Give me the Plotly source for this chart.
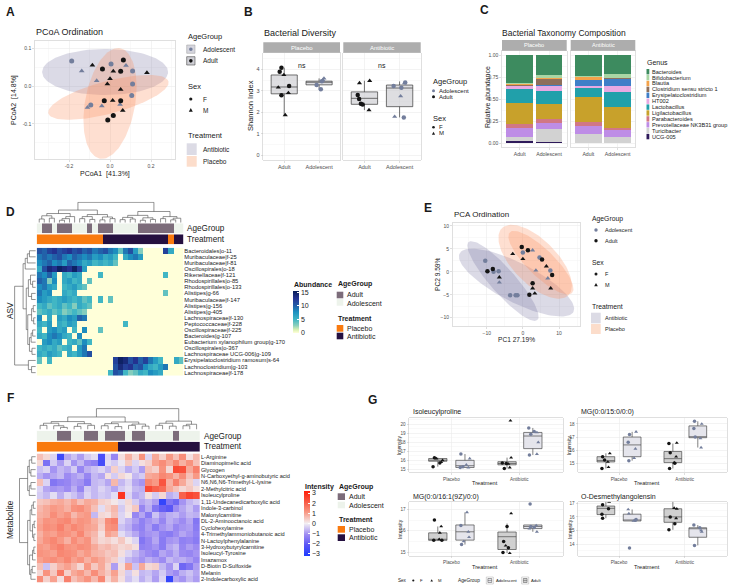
import numpy as np
import plotly.graph_objects as go

W, H = 736, 587
FONT = "Liberation Sans, Arial, Helvetica, sans-serif"
DARK = "#1A1A1A"
TICKC = "#4D4D4D"
AGE_COL = {"N": "#737E9C", "A": "#141414"}      # N = Adolescent, A = Adult
SYM = {"F": "circle", "M": "triangle-up"}
TRT_FILL = {"Antibiotic": "rgba(105,100,150,0.24)", "Placebo": "rgba(250,140,90,0.28)"}
TRT_KEY = {"Antibiotic": "#DCDBE5", "Placebo": "#FCDDCB"}
ANN_AGE = {"A": "#7C6C7A", "N": "#EDF3EB"}
ANN_TRT = {"P": "#F97A0F", "A": "#251040"}

# ---------------- A: PCoA ----------------
pcoa_x = [-0.187, -0.138, -0.065, 0.005, 0.078, 0.110, 0.110, 0.106, -0.094, -0.110, -0.040, 0.049,
          -0.086, -0.037, 0.016, 0.065, 0.052, 0.000, -0.013, 0.052, 0.180, -0.028, 0.013, 0.052, 0.062, 0.016, -0.011]
pcoa_y = [0.066, 0.040, 0.014, 0.058, 0.054, 0.040, 0.005, -0.025, -0.050, -0.057, -0.053, -0.049,
          0.055, 0.045, 0.039, 0.069, 0.039, 0.019, 0.005, -0.009, 0.035, -0.039, -0.038, -0.039, -0.065, -0.078, -0.090]
pcoa_age = "NNNNNNNNNNNN" + "AAAAAAAAAAAAAAA"
pcoa_sex = "FMMFMFFFFMMM" + "MFMFFMMMMFMFMFF"
pcoa_ell_trt = ["Antibiotic", "Placebo", "Placebo"]
pcoa_ell_cx = [-0.024, -0.008, 0.000]
pcoa_ell_cy = [0.037, -0.030, -0.046]
pcoa_ell_ux = [0.307, 0.293, 0.049]
pcoa_ell_uy = [0.000, 0.042, 0.146]
pcoa_ell_vx = [0.000, 0.018, 0.120]
pcoa_ell_vy = [0.061, -0.042, -0.012]

# ---------------- B: Shannon ----------------
shannon_groups = ["Placebo|Adult", "Placebo|Adolescent", "Antibiotic|Adult", "Antibiotic|Adolescent"]
shannon_y = [[4.08, 3.89, 3.74, 3.16, 3.22, 2.79, 2.90, 1.87],
             [3.27, 3.07, 3.45, 3.50, 3.58],
             [3.36, 3.47, 2.80, 2.62, 2.40, 2.36, 2.10],
             [3.22, 3.14, 2.75, 3.39, 3.36, 1.79, 1.76]]
shannon_sex = ["FFMMFFMM", "FFFMM", "MMFFFFM", "FFMFMMF"]
shannon_jit = [[-0.08, -0.13, -0.01, -0.17, 0.14, -0.08, 0.12, 0.03],
               [-0.07, 0.05, 0.08, 0.11, 0.14],
               [-0.14, 0.15, -0.19, -0.15, -0.10, -0.05, 0.13],
               [-0.17, 0.05, 0.03, 0.16, 0.14, -0.14, 0.12]]
# q1, median, q3, lower whisker, upper whisker
shannon_box = [[2.86, 3.18, 3.74, 1.87, 4.08], [3.28, 3.40, 3.45, 3.07, 3.58],
               [2.37, 2.65, 2.95, 2.10, 3.47], [2.26, 3.13, 3.27, 1.76, 3.44]]

# ---------------- C: taxonomy ----------------
genus = ["Bacteroides", "Bifidobacterium", "Blautia", "Clostridium sensu stricto 1", "Erysipelatoclostridium",
         "HT002", "Lactobacillus", "Ligilactobacillus", "Parabacteroides", "Prevotellaceae NK3B31 group",
         "Turicibacter", "UCG-005"]
genus_col = ["#3D8B5F", "#A9D6A4", "#F4A24A", "#8E6F5C", "#3F7EC8", "#E8A9E3", "#21A0AA", "#C8A12B",
             "#D17785", "#BE8DE6", "#D2D2D2", "#2E1A5A"]
# columns: Placebo-Adult, Placebo-Adolescent, Antibiotic-Adult, Antibiotic-Adolescent
abund = [[0.315, 0.230, 0.242, 0.215], [0.010, 0.034, 0.005, 0.040], [0.010, 0.008, 0.033, 0.005],
         [0.015, 0.073, 0.005, 0.015], [0.005, 0.005, 0.067, 0.075], [0.030, 0.054, 0.016, 0.065],
         [0.160, 0.146, 0.106, 0.170], [0.240, 0.180, 0.283, 0.238], [0.045, 0.044, 0.050, 0.027],
         [0.095, 0.068, 0.090, 0.075], [0.045, 0.146, 0.100, 0.072], [0.030, 0.012, 0.003, 0.003]]

# ---------------- D: ASV heatmap ----------------
asv_rows = ["Bacteroidales|o-11", "Muribaculaceae|f-25", "Muribaculaceae|f-81", "Oscillospirales|o-18",
            "Rikenellaceae|f-121", "Rhodospirillales|o-85", "Rhodospirillales|o-133", "Alistipes|g-66",
            "Muribaculaceae|f-147", "Alistipes|g-156", "Alistipes|g-405", "Lachnospiraceae|f-130",
            "Peptococcaceae|f-228", "Oscillospiraceae|f-225", "Bacteroides|g-107",
            "Eubacterium xylanophilum group|g-170", "Oscillospirales|o-367", "Lachnospiraceae UCG-006|g-109",
            "Erysipelatoclostridium ramosum|s-64", "Lachnoclostridium|g-103", "Lachnospiraceae|f-178"]
# abundance per sample (hex digit 0-15), 29 samples
asv_hex = [
    "BACDBCDBCA" "B9AB9849B7" "30000C600",
    "9A9AB98A98" "9786750689" "700000000",
    "89A897A986" "7565640000" "000000000",
    "6BEDFEDFC7" "0000000000" "000000000",
    "98A7065760" "0050000000" "000005000",
    "A938067560" "4000000000" "000000000",
    "8976056754" "0000000000" "000000000",
    "9780065600" "0000000000" "000004000",
    "8765676564" "5050400000" "000000000",
    "5645645365" "4000000000" "000000000",
    "4564534543" "0000000000" "000000000",
    "80607687A9" "0000000000" "000000000",
    "6570657600" "0000000500" "000000000",
    "5078670508" "0040000000" "000000000",
    "6589865080" "0000000000" "000000000",
    "0786705648" "5000000000" "000000000",
    "5656456079" "0000000000" "000000000",
    "6576506579" "B000000000" "000000000",
    "4050000000" "00000CFEBD" "AC9750064",
    "0000000000" "00000BECDA" "B86579000",
    "0000000000" "00005BA534" "658760000",
]
asv_age = "NAANAAANNNANAAANNNNNAAAAAAANN"
asv_trt = "PPPPPPPPPPPPPAAAAAAAAAAAAAPAA"
asv_col_tree = (((((0, 1, .18), (2, 3, .22), .34), (((4, 5, .12), 6, .2), 7, .3), .45),
                 (((8, 9, .2), (10, 11, .16), .3), ((12, 13, .14), (14, 15, .2), .28), .4), .62),
                ((((16, 17, .15), (18, 19, .18), .26), ((20, 21, .12), (22, 23, .16), .24), .36),
                 ((24, 25, .2), ((26, 27, .14), 28, .22), .3), .55), 1.0)
asv_row_tree = (((((0, 1, .3), 2, .4), 3, .5),
                 (((4, (5, 6, .15), .25), (7, 8, .2), .35),
                  (((9, 10, .12), (11, 12, .1), .2), (((13, 14, .15), 15, .22), (16, 17, .18), .3), .38), .45), .6),
                (18, (19, 20, .2), .35), 1.0)

# ---------------- E: PCA ----------------
pca_x = [-10.4, -8.1, -6.7, -6.5, -3.5, -2.0, -1.5, 0.0, 2.7, 3.6, 4.6, 7.6, 6.9,
         -9.8, -8.3, -6.5, -2.8, 0.0, -0.3, 1.4, 5.3, 6.5, 8.1, 7.7, 2.7, 2.7, 3.3, 1.8]
pca_y = [2.4, 0.0, 0.15, -2.3, -5.1, -5.1, -5.1, 4.2, 4.7, 0.3, 3.1, 0.3, -1.4,
         0.1, 0.6, -1.2, 3.9, 2.8, 5.4, 4.7, 2.7, 1.2, -0.7, -3.6, -2.5, -3.6, -4.7, -5.0]
pca_age = "NNNNNNNNNNNNN" + "AAAAAAAAAAAAAAA"
pca_sex = "FFFMFFFFMMFFM" + "FFMMMFFFMFMFMMF"
pca_ell_trt = ["Antibiotic", "Antibiotic", "Placebo", "Placebo"]
pca_ell_cx = [-5.5, -1.75, 3.4, 5.0]
pca_ell_cy = [-2.0, -2.35, 2.2, 2.0]
pca_ell_ux = [9.5, 15.75, 9.2, 8.6]
pca_ell_uy = [-8.5, -6.35, -7.3, -6.6]
pca_ell_vx = [2.6, 2.4, 4.3, 2.6]
pca_ell_vy = [1.8, 3.8, 3.4, 2.1]

# ---------------- F: metabolite heatmap ----------------
met_rows = ["L-Arginine", "Diaminopimelic acid", "Glycogen", "N-Carboxyethyl-g-aminobutyric acid",
            "N6,N6,N6-Trimethyl-L-lysine", "2-Methylcitric acid", "Isoleucylproline",
            "1,11-Undecanedicarboxylic acid", "Indole-3-carbinol", "Malonylcarnitine",
            "DL-2-Aminooctanoic acid", "Cyclohexylamine", "4-Trimethylammoniobutanoic acid",
            "N-Lactoylphenylalanine", "3-Hydroxybutyrylcarnitine", "Isoleucyl-Tyrosine", "Imazamox",
            "D-Biotin D-Sulfoxide", "Melanin", "2-Indolecarboxylic acid"]
met_z = [
    [0.6, 0.3, -0.3, -2.6, -0.8, -0.5, -0.9, -0.4, -0.2, -2.4, -0.3, -1.2, 0.2, 0.8, 0.3, 1.2, -0.3, 0.9, 0.4, 1.1, 0.6, 1.3, 0.2, 0.7],
    [0.3, -1.6, -0.4, -0.9, -0.3, -1.0, -0.6, -1.1, -1.3, -2.5, -0.2, -0.4, -0.1, 0.5, -0.3, 0.2, 0.4, 1.0, 1.3, 0.9, 1.4, 0.8, 1.2, 0.6],
    [-0.5, -0.3, -1.0, -0.6, -0.8, -0.4, -1.2, -0.7, -0.5, -0.3, -0.6, 0.4, -0.3, -0.7, -0.4, -0.9, 0.6, 0.4, 1.2, 0.3, 2.4, 2.3, 0.9, 1.5],
    [-0.7, -1.0, -0.8, -0.6, -1.1, -0.9, -0.7, -1.2, -0.6, -0.8, 0.2, -0.4, 0.3, 0.1, -0.6, -0.4, 0.9, 1.0, 1.4, 1.2, 0.8, 1.3, 0.6, 1.1],
    [0.6, -0.3, -1.5, -1.3, -1.2, -0.9, -1.0, -1.4, -0.6, -0.5, -0.8, 0.7, -0.6, -0.3, -0.8, -1.0, 1.4, 1.1, 2.2, 0.8, 1.5, 0.9, 0.4, -0.3],
    [-0.3, -0.8, -1.0, -0.9, -1.1, -0.7, -1.2, -0.4, -0.6, -0.3, -0.5, -0.8, -0.4, -0.2, -0.6, -0.7, 2.4, 2.0, 1.8, 0.9, 0.6, 0.3, 0.5, 0.2],
    [-0.4, -0.6, -0.2, -0.7, -0.3, -0.5, -0.8, -0.3, -0.6, -0.4, -0.5, -0.2, 2.8, -0.3, -0.8, -0.6, 0.2, -0.4, 0.3, -0.7, -0.5, 2.0, 2.5, 2.3],
    [0.5, 0.6, 0.8, 0.9, 0.7, 1.0, 0.6, 0.9, 0.8, 0.4, 0.3, 0.1, -0.2, 0.3, -0.4, -0.8, -0.6, -0.9, -2.8, -1.5, -1.8, -1.0, -0.6, -0.4],
    [0.7, 0.9, 1.1, 1.0, 0.8, 1.2, 1.3, 1.0, 0.6, -0.2, 0.4, 0.7, -0.4, 0.2, 0.5, -1.2, -0.7, -1.5, -1.9, -2.1, -1.1, -0.8, -0.5, -0.9],
    [0.8, 0.9, 1.3, 1.0, 1.2, 0.7, 1.0, 1.1, -0.6, 0.3, 0.2, 0.6, -0.3, 0.1, -1.2, -0.8, -1.4, -0.5, -1.0, -0.7, -0.6, -0.9, -0.6, -0.7],
    [0.9, 1.2, 1.1, 1.3, 1.4, 1.0, 1.2, 1.1, 0.8, 0.5, 1.3, 1.5, -0.3, -0.6, -0.9, -1.3, -1.0, -0.8, -1.2, -0.7, -0.9, -1.1, -0.8, -1.5],
    [1.0, 1.3, 1.2, 1.5, 1.1, 1.4, 1.2, 1.0, 0.9, 0.4, 1.2, 1.3, -0.5, -0.7, -1.1, -1.3, -0.9, -1.4, -1.0, -0.8, -1.2, -1.0, -0.9, -1.4],
    [0.8, 1.1, 1.0, 1.3, 1.2, 1.0, 1.4, 0.9, 0.7, 0.2, 1.0, 0.8, -0.2, -0.5, -0.8, -1.2, -1.0, -0.9, -1.3, -1.4, -1.1, -0.8, -1.0, -1.3],
    [0.9, 1.2, 1.4, 1.1, 0.8, 1.3, 1.0, 1.2, 0.6, 0.3, 0.4, 0.2, 0.5, 0.1, -0.3, -1.5, -1.2, -0.8, -1.4, -1.0, -0.9, -1.3, -1.2, -1.4],
    [1.1, 1.0, 1.3, 1.5, 1.2, 1.1, 1.3, 1.2, 0.9, 0.6, 0.7, 0.5, 0.3, 0.4, 0.2, -1.3, -1.2, -1.0, -1.4, -0.8, -0.6, -1.2, -0.9, -1.1],
    [1.2, 1.1, 1.0, 1.4, 1.3, 1.2, 0.9, 1.1, 0.8, 0.7, 0.5, 0.6, 0.2, -0.3, -0.6, -0.9, -1.1, -1.3, -0.8, -1.0, -0.7, -1.1, -1.2, -1.0],
    [1.0, 1.2, 1.3, 1.1, 1.4, 1.0, 1.2, 0.8, 1.1, 0.9, 0.6, 0.4, -0.2, -0.6, -0.8, -1.0, -0.7, -0.9, -1.1, -0.6, -0.8, -0.7, -0.9, -1.2],
    [0.6, -0.5, 0.4, 0.8, 1.0, 0.7, 0.3, 1.1, 0.5, 0.9, 0.4, -0.9, 0.2, 1.0, -0.5, 0.9, 0.3, 0.4, -0.6, -1.0, -0.3, -1.8, -1.5, -0.9],
    [0.3, 1.2, 0.5, 1.6, 0.4, 0.9, 1.1, 0.7, 1.3, 0.8, 0.5, 1.0, 0.3, -0.4, 0.2, -0.6, -0.5, -0.8, -0.4, -0.9, -1.1, -0.7, -0.5, -0.8],
    [1.3, 0.4, 1.0, 0.2, 1.5, 0.6, 0.9, 1.2, 0.7, 1.4, 0.3, 0.8, 0.2, -0.5, -0.2, -0.7, -0.4, -0.9, -0.3, -2.8, -0.8, -1.0, -0.6, -0.9],
]
met_age = "NNNAANNAANAAANAANNNNANNN"
met_trt = "PPPPPPPPPPPP" + "AAAAAAAAAAAA"
met_col_tree = ((((((0, 1, .2), (2, (3, 4, .1), .18), .3), ((5, 6, .15), (7, 8, .2), .28), .38),
                  (((9, 10, .18), (11, 12, .14), .28), ((13, 14, .2), (15, 16, .16), .26), .36), .6),
                 (((17, 18, .2), (19, 20, .16), .3), ((21, 22, .18), 23, .25), .4), 1.0))
met_row_tree = (((((0, 1, .25), (2, 3, .3), .4), ((4, 5, .3), 6, .4), .5),
                 (((((7, 8, .15), 9, .25), ((10, 11, .1), (12, 13, .12), .2), .35),
                   (((14, 15, .12), 16, .2), ((17, 18, .22), 19, .3), .38), .5)), 1.0))

# ---------------- G: metabolite boxplots ----------------
g_titles = ["Isoleucylproline", "MG(0:0/15:0/0:0)", "MG(0:0/16:1(9Z)/0:0)", "O-Desmethylangolensin"]
g_ranges = [[14.67, 20.67], [14.31, 18.43], [14.83, 17.36], [13.14, 17.12]]
g_ticks = [[15, 16, 17, 18, 19, 20], [15, 16, 17, 18], [15, 16, 17], [14, 15, 16, 17]]
# group order: Placebo-Adult, Placebo-Adolescent, Antibiotic-Adult, Antibiotic-Adolescent
g_y = [
    [[16.3, 15.3, 15.8, 16.0, 15.7, 16.2], [16.7, 16.2, 15.5, 15.3, 15.2, 15.2],
     [15.7, 15.1, 16.3, 15.2, 15.6, 15.65, 20.4], [19.6, 19.1, 18.9, 18.0, 16.6, 16.7, 19.2]],
    [[15.5, 15.75, 15.25, 14.7, 14.6, 15.1], [17.2, 17.4, 16.6, 16.1, 15.4, 15.2],
     [16.5, 16.55, 15.8, 15.0, 15.5, 15.05, 14.6], [18.2, 17.65, 18.0, 17.0, 16.2, 16.9]],
    [[16.5, 16.2, 15.9, 15.55, 15.6, 15.55], [16.86, 16.25, 15.95, 15.7, 15.35, 15.5],
     [16.81, 15.5, 14.98, 14.95, 15.2, 15.3, 16.2], [17.25, 15.95, 16.25, 16.2, 16.15, 16.1]],
    [[17.6, 17.1, 16.9, 16.6, 16.2, 15.9], [16.55, 16.25, 15.75, 15.8, 13.7, 15.7],
     [17.3, 16.6, 16.65, 16.0, 15.9, 15.5, 15.05], [13.9, 15.4, 15.0, 15.2, 14.9]],
]
g_sex = [["FFMMFM", "FMMFMF", "FFMMMFM", "FMFMFMF"],
         ["FMFMFM", "FMFMMF", "FMFFMMF", "FFMFMM"],
         ["FMMFMF", "MFMMFM", "MFFMFMF", "FMMFFM"],
         ["MMFFFF", "MMFFFM", "FMMFMFF", "FFMFM"]]
g_jit = [
    [[-0.05, -0.07, 0.05, 0.07, 0.03, -0.02], [-0.06, 0.07, 0.02, -0.03, 0.05, -0.07],
     [-0.07, -0.04, 0.06, 0.04, 0.02, -0.01, 0.05], [-0.06, 0.06, -0.03, 0.08, -0.05, 0.06, 0.02]],
    [[-0.05, 0.06, -0.02, 0.04, -0.06, 0.03], [-0.04, 0.06, -0.06, 0.05, 0.03, -0.05],
     [-0.06, 0.06, -0.04, 0.03, 0.05, 0.02, -0.05], [-0.05, -0.06, 0.06, -0.04, 0.05, 0.04]],
    [[-0.05, 0.05, 0.03, -0.06, 0.02, 0.06], [0.03, -0.06, 0.05, 0.06, -0.05, -0.02],
     [0.06, -0.05, -0.06, 0.04, 0.02, -0.02, 0.0], [-0.04, 0.06, 0.05, -0.03, 0.02, -0.05]],
    [[0.02, 0.05, -0.05, 0.04, -0.06, -0.05], [-0.06, -0.05, 0.05, 0.06, -0.04, 0.02],
     [-0.06, 0.06, 0.02, -0.04, 0.05, 0.03, -0.06], [-0.05, -0.06, 0.05, 0.03, 0.06]],
]
g_box = [
    [[15.9, 16.0, 16.2, 15.3, 16.3], [15.2, 15.4, 16.0, 15.2, 16.7], [15.5, 15.65, 15.85, 15.1, 16.3], [17.3, 18.7, 19.1, 16.6, 19.6]],
    [[15.1, 15.2, 15.5, 14.6, 15.76], [15.5, 16.4, 17.0, 15.2, 17.4], [15.05, 15.35, 15.9, 14.6, 16.5], [16.95, 17.0, 17.85, 16.2, 18.2]],
    [[15.55, 15.6, 15.9, 15.55, 16.2], [15.56, 15.95, 16.27, 15.35, 16.86], [15.12, 15.72, 15.94, 14.95, 16.34], [16.1, 16.2, 16.27, 15.95, 16.27]],
    [[16.17, 16.63, 16.8, 15.9, 17.6], [15.7, 15.75, 16.2, 15.7, 16.55], [15.6, 16.0, 16.6, 15.05, 17.3], [14.5, 15.17, 15.2, 13.9, 15.4]],
]

# ======================= helpers =======================
traces, annotations, shapes = [], [], []
layout = {}
NAX = [0]


def px(x):
    return x / W


def py(y):
    return 1 - y / H


def xd(x0, x1):
    return [x0 / W, x1 / W]


def yd(y0, y1):
    return [1 - y1 / H, 1 - y0 / H]


def add_axes(xdom, ydom, xkw, ykw):
    NAX[0] += 1
    s = "" if NAX[0] == 1 else str(NAX[0])
    layout["xaxis" + s] = dict(domain=xdom, anchor="y" + s, **xkw)
    layout["yaxis" + s] = dict(domain=ydom, anchor="x" + s, **ykw)
    return "x" + s, "y" + s


def text(x, y, s, size=6, color=DARK, bold=False, xanchor="left", angle=0):
    annotations.append(dict(x=px(x), y=py(y), xref="paper", yref="paper",
                            text=("<b>%s</b>" % s) if bold else s, showarrow=False,
                            xanchor=xanchor, yanchor="middle", textangle=angle, borderpad=0,
                            font=dict(size=size, color=color, family=FONT)))


def rect(x0, y0, x1, y1, fill, line=None, lw=0):
    shapes.append(dict(type="rect", xref="paper", yref="paper", x0=px(x0), x1=px(x1),
                       y0=py(y1), y1=py(y0), fillcolor=fill, layer="above",
                       line=dict(color=line or fill, width=lw)))


def dot(x, y, r, color):
    shapes.append(dict(type="circle", xref="paper", yref="paper", x0=px(x - r), x1=px(x + r),
                       y0=py(y + r), y1=py(y - r), fillcolor=color, line=dict(width=0), layer="above"))


def tri(x, y, r, color):
    path = "M %f,%f L %f,%f L %f,%f Z" % (px(x - r), py(y + 0.85 * r), px(x + r), py(y + 0.85 * r), px(x), py(y - r))
    shapes.append(dict(type="path", xref="paper", yref="paper", path=path, fillcolor=color,
                       line=dict(width=0), layer="above"))


def base_axis(**kw):
    d = dict(showgrid=True, gridcolor="#EBEBEB", gridwidth=0.6, zeroline=False, showline=True,
             linecolor="#D2D2D2", linewidth=0.7, mirror=True, ticks="outside", ticklen=2,
             tickwidth=0.5, tickcolor="#BDBDBD", tickfont=dict(size=5, color=TICKC, family=FONT))
    d.update(kw)
    return d


def minor(vals):
    return dict(tickmode="array", tickvals=vals, showgrid=True, gridcolor="#F4F4F4", gridwidth=0.5, ticks="")


def hidden(rng):
    return dict(visible=False, range=rng, showgrid=False, zeroline=False, fixedrange=True)


def ellipse(cx, cy, ux, uy, vx, vy):
    t = np.linspace(0, 2 * np.pi, 120)
    return cx + ux * np.cos(t) + vx * np.sin(t), cy + uy * np.cos(t) + vy * np.sin(t)


def dendro(tree):
    xs, ys = [], []

    def rec(node):
        if isinstance(node, int):
            return float(node), 0.0
        a, b, h = node
        pa, ha = rec(a)
        pb, hb = rec(b)
        xs.extend([pa, pa, pb, pb, None])
        ys.extend([ha, h, h, hb, None])
        return (pa + pb) / 2, h

    rec(tree)
    return xs, ys


def scatter_groups(xa, ya, xs, ys, ages, sexes, size):
    for ag in "NA":
        for sx in "FM":
            idx = [i for i in range(len(xs)) if ages[i] == ag and sexes[i] == sx]
            if not idx:
                continue
            traces.append(go.Scatter(x=[xs[i] for i in idx], y=[ys[i] for i in idx], mode="markers",
                                     xaxis=xa, yaxis=ya, hoverinfo="skip",
                                     marker=dict(symbol=SYM[sx], color=AGE_COL[ag], size=size, line=dict(width=0))))


# ======================= A =======================
xa, ya = add_axes(xd(35, 175), yd(41, 159),
                  base_axis(range=[-0.366, 0.317], tickmode="array", tickvals=[-0.2, 0, 0.2],
                            ticktext=["-0.2", "0.0", "0.2"], minor=minor([-0.3, -0.1, 0.1, 0.3])),
                  base_axis(range=[-0.193, 0.119], tickmode="array", tickvals=[-0.1, 0, 0.1],
                            ticktext=["-0.1", "0.0", "0.1"], minor=minor([-0.15, -0.05, 0.05])))
for i in range(len(pcoa_ell_cx)):
    ex, ey = ellipse(pcoa_ell_cx[i], pcoa_ell_cy[i], pcoa_ell_ux[i], pcoa_ell_uy[i], pcoa_ell_vx[i], pcoa_ell_vy[i])
    traces.append(go.Scatter(x=ex, y=ey, mode="lines", fill="toself", fillcolor=TRT_FILL[pcoa_ell_trt[i]],
                             line=dict(width=0), xaxis=xa, yaxis=ya, hoverinfo="skip"))
scatter_groups(xa, ya, pcoa_x, pcoa_y, pcoa_age, pcoa_sex, 5)

# ======================= B =======================
b_axes = []
for k, (x0, x1) in enumerate([(263.3, 340), (343.3, 420.7)]):
    ykw = base_axis(range=[-0.23, 4.78], tickmode="array", tickvals=[0, 1, 2, 3, 4],
                    minor=minor([0.5, 1.5, 2.5, 3.5, 4.5]), showticklabels=(k == 0),
                    tickfont=dict(size=5.5, color=TICKC, family=FONT))
    if k == 1:
        ykw["ticks"] = ""
    b_axes.append(add_axes(xd(x0, x1), yd(52.7, 160),
                           base_axis(range=[0.4, 2.6], tickmode="array", tickvals=[1, 2],
                                     ticktext=["Adult", "Adolescent"], tickfont=dict(size=5.5, color=TICKC, family=FONT)),
                           ykw))
for gi, g in enumerate(shannon_groups):
    trt, age = g.split("|")
    xa, ya = b_axes[0] if trt == "Placebo" else b_axes[1]
    pos = 1 if age == "Adult" else 2
    q1, med, q3, lo, hi = shannon_box[gi]
    traces.append(go.Box(x=[pos], q1=[q1], median=[med], q3=[q3], lowerfence=[lo], upperfence=[hi],
                         width=0.75, whiskerwidth=0, boxpoints=False, xaxis=xa, yaxis=ya, hoverinfo="skip",
                         fillcolor="rgba(200,200,205,0.6)", line=dict(color="#3A3A3A", width=0.7)))
    ag = "A" if age == "Adult" else "N"
    xs = [pos + j for j in shannon_jit[gi]]
    scatter_groups(xa, ya, xs, shannon_y[gi], ag * len(xs), shannon_sex[gi], 4.5)
for k, (xa, ya) in enumerate(b_axes):
    annotations.append(dict(x=1.5, y=4.2, xref=xa, yref=ya, text="ns", showarrow=False,
                            font=dict(size=7, color=DARK, family=FONT)))

# ======================= C =======================
c_axes = []
for k, (x0, x1) in enumerate([(502, 566.7), (570.7, 635.3)]):
    ykw = base_axis(range=[-0.045, 1.049], tickmode="array", tickvals=[0, 0.25, 0.5, 0.75, 1.0],
                    ticktext=["0.00", "0.25", "0.50", "0.75", "1.00"], showticklabels=(k == 0),
                    minor=minor([0.125, 0.375, 0.625, 0.875]))
    if k == 1:
        ykw["ticks"] = ""
    c_axes.append(add_axes(xd(x0, x1), yd(50.7, 147.3),
                           base_axis(type="category", range=[-0.6, 1.6], tickfont=dict(size=5.2, color=TICKC, family=FONT)),
                           ykw))
for gi in reversed(range(len(genus))):
    for k in range(2):
        xa, ya = c_axes[k]
        traces.append(go.Bar(x=["Adult", "Adolescent"], y=[abund[gi][2 * k], abund[gi][2 * k + 1]], width=0.9,
                             marker=dict(color=genus_col[gi], line=dict(width=0)), xaxis=xa, yaxis=ya, hoverinfo="skip"))

# ======================= D =======================
YLGNBU = [[0, "#FFFFD9"], [0.08, "#D9F0B3"], [0.18, "#8ACFBC"], [0.32, "#41B6C4"], [0.5, "#1D91C0"],
          [0.65, "#225EA8"], [0.82, "#253494"], [1, "#081D58"]]
for r in asv_hex:
    assert len(r) == 29, r
asv_z = [[int(c, 16) for c in r] for r in asv_hex]
nD = len(asv_z[0])
xa, ya = add_axes(xd(36.7, 183.3), yd(247.7, 375.7), hidden([-0.5, nD - 0.5]),
                  dict(range=[len(asv_rows) - 0.5, -0.5], side="right", tickmode="array",
                       tickvals=list(range(len(asv_rows))), ticktext=asv_rows, showgrid=False, zeroline=False,
                       showline=False, ticks="", tickfont=dict(size=5.8, color=DARK, family=FONT)))
traces.append(go.Heatmap(z=asv_z, xaxis=xa, yaxis=ya, colorscale=YLGNBU, zmin=0, zmax=15.6, hoverinfo="skip",
                         colorbar=dict(x=px(293.3), xanchor="left", y=py(290.7), yanchor="top",
                                       len=(333 - 290.7) / H, lenmode="fraction", thickness=5.5,
                                       thicknessmode="pixels", outlinewidth=0, xpad=0, ypad=0,
                                       tickmode="array", tickvals=[0, 5, 10, 15], ticks="inside", ticklen=2,
                                       tickcolor="white", tickfont=dict(size=7, color=DARK, family=FONT))))
xa, ya = add_axes(xd(36.7, 183.3), yd(223.3, 233.3), hidden([-0.5, nD - 0.5]), hidden([-0.5, 0.5]))
traces.append(go.Heatmap(z=[[1 if c == "A" else 0 for c in asv_age]], xaxis=xa, yaxis=ya, zmin=0, zmax=1,
                         colorscale=[[0, ANN_AGE["N"]], [1, ANN_AGE["A"]]], showscale=False, hoverinfo="skip"))
xa, ya = add_axes(xd(36.7, 183.3), yd(234.3, 244.3), hidden([-0.5, nD - 0.5]), hidden([-0.5, 0.5]))
traces.append(go.Heatmap(z=[[1 if c == "A" else 0 for c in asv_trt]], xaxis=xa, yaxis=ya, zmin=0, zmax=1,
                         colorscale=[[0, ANN_TRT["P"]], [1, ANN_TRT["A"]]], showscale=False, hoverinfo="skip"))
xa, ya = add_axes(xd(36.7, 183.3), yd(201.7, 222.7), hidden([-0.5, nD - 0.5]), hidden([0, 1.03]))
dx, dy = dendro(asv_col_tree)
traces.append(go.Scatter(x=dx, y=dy, mode="lines", line=dict(color="#4A4A4A", width=0.6), xaxis=xa, yaxis=ya, hoverinfo="skip"))
xa, ya = add_axes(xd(14, 35.8), yd(247.7, 375.7), hidden([1.03, 0]), hidden([len(asv_rows) - 0.5, -0.5]))
dx, dy = dendro(asv_row_tree)
traces.append(go.Scatter(x=dy, y=dx, mode="lines", line=dict(color="#4A4A4A", width=0.6), xaxis=xa, yaxis=ya, hoverinfo="skip"))

# ======================= E =======================
xa, ya = add_axes(xd(452.7, 580), yd(222.7, 326),
                  base_axis(range=[-19.4, 15.8], tickmode="array", tickvals=[-10, 0, 10], minor=minor([-15, -5, 5, 15])),
                  base_axis(range=[-11.8, 10.7], tickmode="array", tickvals=[-10, -5, 0, 5, 10],
                            minor=minor([-7.5, -2.5, 2.5, 7.5])))
for i in range(len(pca_ell_cx)):
    ex, ey = ellipse(pca_ell_cx[i], pca_ell_cy[i], pca_ell_ux[i], pca_ell_uy[i], pca_ell_vx[i], pca_ell_vy[i])
    traces.append(go.Scatter(x=ex, y=ey, mode="lines", fill="toself", fillcolor=TRT_FILL[pca_ell_trt[i]],
                             line=dict(width=0), xaxis=xa, yaxis=ya, hoverinfo="skip"))
scatter_groups(xa, ya, pca_x, pca_y, pca_age, pca_sex, 4.5)

# ======================= F =======================
RDBU = [[0, "#1E3CFF"], [0.17, "#5A55F5"], [0.33, "#9E8CF2"], [0.5, "#F3EFF3"], [0.67, "#F89A86"],
        [0.83, "#F85A45"], [1, "#FF1E0A"]]
nF = len(met_z[0])
xa, ya = add_axes(xd(36.7, 200), yd(453.5, 582.5), hidden([-0.5, nF - 0.5]),
                  dict(range=[len(met_rows) - 0.5, -0.5], side="right", tickmode="array",
                       tickvals=list(range(len(met_rows))), ticktext=met_rows, showgrid=False, zeroline=False,
                       showline=False, ticks="", tickfont=dict(size=5.6, color=DARK, family=FONT)))
traces.append(go.Heatmap(z=met_z, xaxis=xa, yaxis=ya, colorscale=RDBU, zmin=-3.2, zmax=3.2, hoverinfo="skip",
                         colorbar=dict(x=px(304), xanchor="left", y=py(491), yanchor="top",
                                       len=(556 - 491) / H, lenmode="fraction", thickness=6,
                                       thicknessmode="pixels", outlinewidth=0, xpad=0, ypad=0,
                                       tickmode="array", tickvals=[-3, -2, -1, 0, 1, 2, 3], ticks="inside", ticklen=2,
                                       tickcolor="white", tickfont=dict(size=7, color=DARK, family=FONT))))
xa, ya = add_axes(xd(36.7, 200), yd(430.7, 441), hidden([-0.5, nF - 0.5]), hidden([-0.5, 0.5]))
traces.append(go.Heatmap(z=[[1 if c == "A" else 0 for c in met_age]], xaxis=xa, yaxis=ya, zmin=0, zmax=1,
                         colorscale=[[0, ANN_AGE["N"]], [1, ANN_AGE["A"]]], showscale=False, hoverinfo="skip"))
xa, ya = add_axes(xd(36.7, 200), yd(441.7, 451.7), hidden([-0.5, nF - 0.5]), hidden([-0.5, 0.5]))
traces.append(go.Heatmap(z=[[1 if c == "A" else 0 for c in met_trt]], xaxis=xa, yaxis=ya, zmin=0, zmax=1,
                         colorscale=[[0, ANN_TRT["P"]], [1, ANN_TRT["A"]]], showscale=False, hoverinfo="skip"))
xa, ya = add_axes(xd(36.7, 200), yd(408, 429.5), hidden([-0.5, nF - 0.5]), hidden([0, 1.03]))
dx, dy = dendro(met_col_tree)
traces.append(go.Scatter(x=dx, y=dy, mode="lines", line=dict(color="#4A4A4A", width=0.6), xaxis=xa, yaxis=ya, hoverinfo="skip"))
xa, ya = add_axes(xd(19, 35.8), yd(453.5, 582.5), hidden([1.03, 0]), hidden([len(met_rows) - 0.5, -0.5]))
dx, dy = dendro(met_row_tree)
traces.append(go.Scatter(x=dy, y=dx, mode="lines", line=dict(color="#4A4A4A", width=0.6), xaxis=xa, yaxis=ya, hoverinfo="skip"))

# ======================= G =======================
g_dom = [(409.3, 562.7, 418.3, 472.3), (578.3, 726.7, 418.3, 472.3),
         (409.3, 562.7, 501.7, 555.7), (578.3, 726.7, 501.7, 555.7)]
g_pos = [0.8, 1.2, 1.82, 2.2]
g_fill = ["rgba(200,200,200,0.85)", "rgba(226,226,234,0.9)", "rgba(200,200,200,0.85)", "rgba(226,226,234,0.9)"]
g_agecode = "ANAN"
for m in range(4):
    x0, x1, y0, y1 = g_dom[m]
    lo, hi = g_ranges[m]
    halves = [v + 0.5 for v in range(int(np.floor(lo)), int(np.ceil(hi)))]
    xa, ya = add_axes(xd(x0, x1), yd(y0, y1),
                      base_axis(range=[0.38, 2.64], tickmode="array", tickvals=[1, 2], ticktext=["Placebo", "Antibiotic"],
                                tickfont=dict(size=4.6, color=TICKC, family=FONT)),
                      base_axis(range=[lo, hi], tickmode="array", tickvals=g_ticks[m], minor=minor(halves),
                                tickfont=dict(size=4.6, color=TICKC, family=FONT)))
    for k in range(4):
        q1, med, q3, lf, uf = g_box[m][k]
        traces.append(go.Box(x=[g_pos[k]], q1=[q1], median=[med], q3=[q3], lowerfence=[lf], upperfence=[uf],
                             width=0.27, whiskerwidth=0, boxpoints=False, xaxis=xa, yaxis=ya, hoverinfo="skip",
                             fillcolor=g_fill[k], line=dict(color="#4A4A4A", width=0.7)))
        xs = [g_pos[k] + j for j in g_jit[m][k]]
        scatter_groups(xa, ya, xs, g_y[m][k], g_agecode[k] * len(xs), g_sex[m][k], 3.5)

# ======================= text, strips, legends =======================
for s, x, y in [("A", 10, 12), ("B", 249, 12), ("C", 484, 10), ("D", 10, 212), ("E", 428, 208),
                ("F", 10, 398), ("G", 372, 400)]:
    text(x, y, s, 12, DARK, True, "center")
text(35, 32, "PCoA Ordination", 9)
text(263, 33, "Bacterial Diversity", 9)
text(501, 33, "Bacterial Taxonomy Composition", 8.5)
text(452.7, 214.3, "PCA Ordination", 8)
for t, (x, y) in zip(g_titles, [(411.7, 411.7), (580, 411.7), (411.7, 496.7), (580, 496.7)]):
    text(x, y, t, 7)
# axis titles
text(105, 174, "PCoA1  [41.3%]", 7, xanchor="center")
text(14, 100, "PCoA2  [14.8%]", 7, xanchor="center", angle=-90)
text(250, 106, "Shannon Index", 7.5, xanchor="center", angle=-90)
text(487, 97, "Relative abundance", 7, xanchor="center", angle=-90)
text(516, 339, "PC1 27.19%", 6.6, xanchor="center")
text(437, 275, "PC2 9.59%", 6.6, xanchor="center", angle=-90)
text(10, 311, "ASV", 8.3, xanchor="center", angle=-90)
text(10, 520, "Metabolite", 8.3, xanchor="center", angle=-90)
text(186, 228.3, "AgeGroup", 8.2)
text(186, 239.3, "Treatment", 8.2)
text(203, 436, "AgeGroup", 8.2)
text(203, 446.7, "Treatment", 8.2)
for x, y in [(485, 483.3), (646.7, 483.3), (485, 566.7), (646.7, 566.7)]:
    text(x, y, "Treatment", 5.6, xanchor="center")
for x, y in [(399.3, 445), (569.3, 445), (399.3, 528.7), (569.3, 528.7)]:
    text(x, y, "Intensity", 5.2, xanchor="center", angle=-90)
# facet strips
for (x0, x1), lab in [((263.3, 340), "Placebo"), ((343.3, 420.7), "Antibiotic")]:
    rect(x0, 42.3, x1, 52.7, "#ADADAD")
    text((x0 + x1) / 2, 47.5, lab, 6, "white", xanchor="center")
for (x0, x1), lab in [((502, 566.7), "Placebo"), ((570.7, 635.3), "Antibiotic")]:
    rect(x0, 40, x1, 50.7, "#ADADAD")
    text((x0 + x1) / 2, 45.4, lab, 5.6, "white", xanchor="center")

# legend A
text(186.7, 36, "AgeGroup", 7.5)
rect(186.7, 45, 195, 53.3, "#D6D6DE", "#9A9A9A", 0.5)
dot(190.85, 49.2, 1.8, AGE_COL["N"])
rect(186.7, 56.7, 195, 65, "#CFCFD5", "#4A4A4A", 0.6)
dot(190.85, 60.85, 1.8, AGE_COL["A"])
text(201.7, 49.3, "Adolescent", 6.5)
text(201.7, 61, "Adult", 6.5)
text(186.7, 86.7, "Sex", 7.5)
dot(190.8, 99, 1.6, DARK)
tri(190.8, 110, 2.0, DARK)
text(201.7, 99, "F", 6.5)
text(201.7, 110, "M", 6.5)
text(186.7, 136, "Treatment", 7.5)
rect(186.7, 143.3, 196.7, 155, TRT_KEY["Antibiotic"])
rect(186.7, 156, 196.7, 166.7, TRT_KEY["Placebo"])
text(201.7, 149.3, "Antibiotic", 6.5)
text(201.7, 161.7, "Placebo", 6.5)

# legend B
text(431.7, 81, "AgeGroup", 7.5)
dot(433.5, 90.7, 1.5, AGE_COL["N"])
text(437.8, 90.7, "Adolescent", 6)
dot(433.5, 96.7, 1.5, AGE_COL["A"])
text(437.8, 96.7, "Adult", 6)
text(431.7, 118.3, "Sex", 7.5)
dot(433.5, 127.3, 1.3, DARK)
text(437.8, 127.3, "F", 6)
tri(433.5, 133.3, 1.6, DARK)
text(437.8, 133.3, "M", 6)

# legend C
text(645.7, 62.7, "Genus", 7)
for i, g in enumerate(genus):
    y = 71.7 + 5.9 * i
    rect(646.5, y - 2.7, 649.3, y + 2.7, genus_col[i])
    text(650.8, y, g, 5.6)

# legend D
text(293.3, 284.3, "Abundance", 7, bold=True)
text(336.7, 284.3, "AgeGroup", 7, bold=True)
rect(336.7, 291.7, 343.3, 298.3, ANN_AGE["A"])
text(345.8, 295, "Adult", 7)
rect(336.7, 299, 343.3, 305.7, ANN_AGE["N"])
text(345.8, 303.3, "Adolescent", 7)
text(336.7, 318.3, "Treatment", 7, bold=True)
rect(336.7, 325, 343.3, 331.7, ANN_TRT["P"])
text(345.8, 328.7, "Placebo", 7)
rect(336.7, 332.7, 343.3, 339.3, ANN_TRT["A"])
text(345.8, 336.4, "Antibiotic", 7)

# legend E
text(591, 219, "AgeGroup", 6.8)
dot(596, 230, 1.7, AGE_COL["N"])
text(604.3, 230, "Adolescent", 5.5)
dot(596, 240.7, 1.7, AGE_COL["A"])
text(604.3, 240.7, "Adult", 5.5)
text(591, 262.3, "Sex", 6.8)
dot(596, 274, 1.5, DARK)
text(604.3, 274, "F", 5.5)
tri(596, 284.7, 1.8, DARK)
text(604.3, 284.7, "M", 5.5)
text(591, 306.7, "Treatment", 6.8)
rect(591, 312.7, 600.7, 323.3, TRT_KEY["Antibiotic"])
text(604.3, 318, "Antibiotic", 5.5)
rect(591, 324, 600.7, 334, TRT_KEY["Placebo"])
text(604.3, 328.7, "Placebo", 5.5)

# legend F
text(304, 486.7, "Intensity", 7, bold=True)
text(337.7, 486.7, "AgeGroup", 7, bold=True)
rect(337.7, 493.3, 345, 500, ANN_AGE["A"])
text(347.5, 496.7, "Adult", 7)
rect(337.7, 501.7, 345, 508.3, ANN_AGE["N"])
text(347.5, 505, "Adolescent", 7)
text(337.7, 519.3, "Treatment", 7, bold=True)
rect(337.7, 526, 345, 532.7, ANN_TRT["P"])
text(347.5, 529.3, "Placebo", 7)
rect(337.7, 534.3, 345, 541, ANN_TRT["A"])
text(347.5, 537.7, "Antibiotic", 7)

# legend G (bottom)
text(396.7, 580.5, "Sex", 4.6)
dot(413.3, 580.5, 1.1, DARK)
text(419.3, 580.5, "F", 4.2)
tri(431.7, 580.5, 1.3, DARK)
text(437.3, 580.5, "M", 4.2)
text(456.7, 580.5, "AgeGroup", 4.8)
for x0, fill, lab in [(486.3, "#E4E4EA", "Adolescent"), (521.7, "#CFCFCF", "Adult")]:
    rect(x0, 577, x0 + 7, 584, "white", "#9A9A9A", 0.4)
    rect(x0 + 1.6, 578.5, x0 + 5.4, 582.5, fill, "#4A4A4A", 0.5)
    rect(x0 + 1.6, 580.3, x0 + 5.4, 580.7, "#4A4A4A")
    text(x0 + 8.7, 580.5, lab, 4.2)

fig = go.Figure(data=traces)
fig.update_layout(layout)
fig.update_layout(width=W, height=H, margin=dict(l=0, r=0, t=0, b=0), paper_bgcolor="white",
                  plot_bgcolor="white", showlegend=False, barmode="stack", bargap=0.1,
                  font=dict(family=FONT, color=DARK), annotations=annotations, shapes=shapes)
fig.write_html("out.html", config={"displayModeBar": False, "staticPlot": True},
               post_script="document.body.style.margin='0';document.body.style.overflow='hidden';")
